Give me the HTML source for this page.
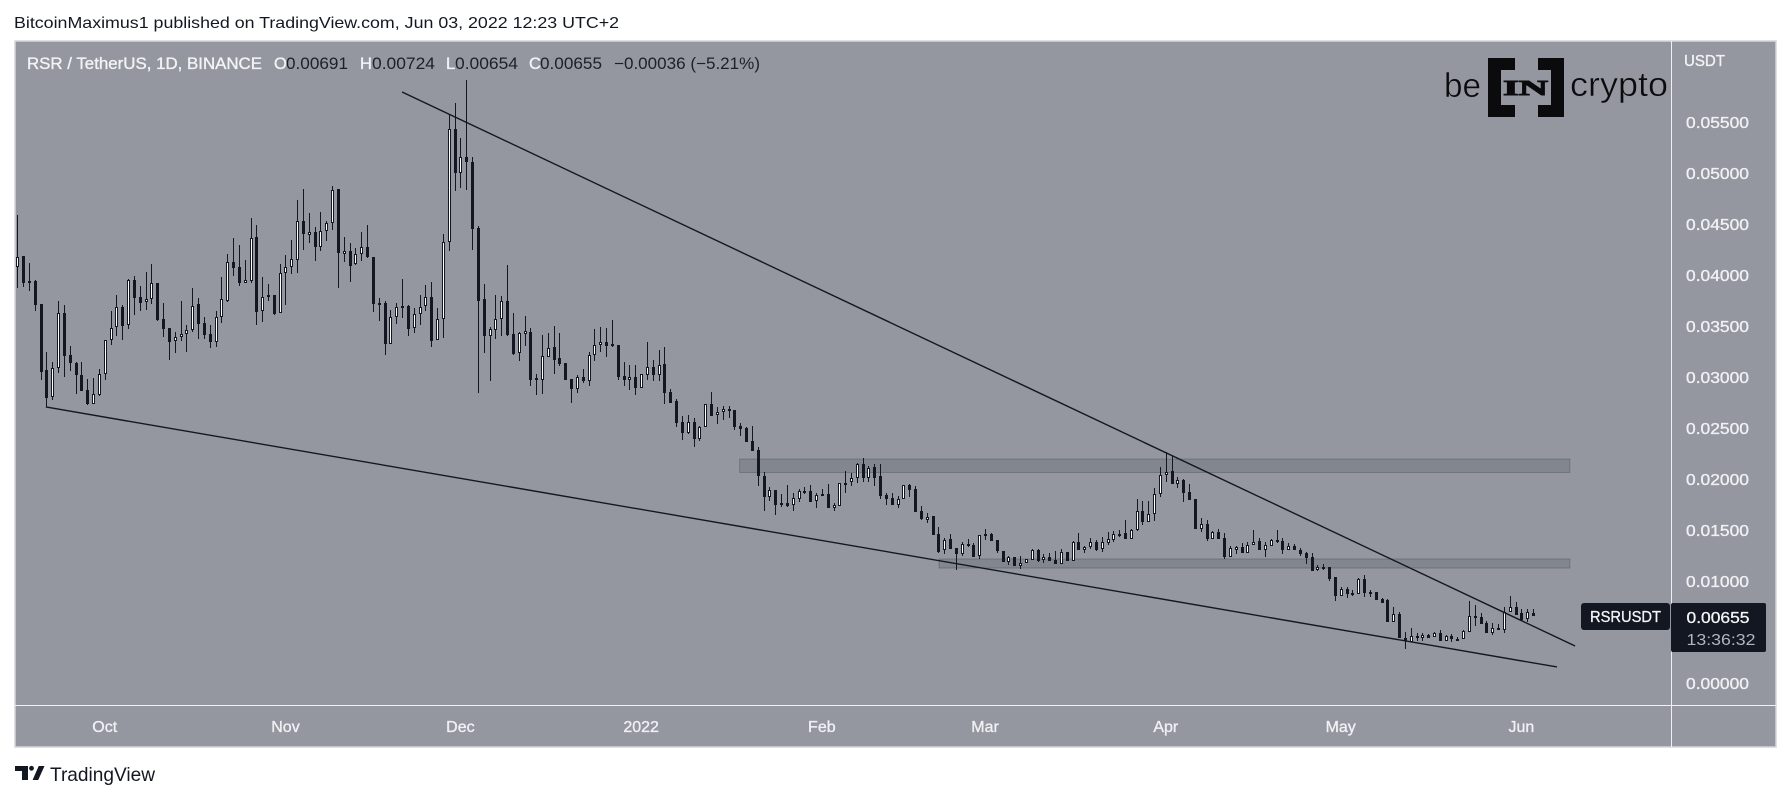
<!DOCTYPE html>
<html lang="en">
<head>
<meta charset="utf-8">
<title>RSR / TetherUS chart</title>
<style>
html,body{margin:0;padding:0;background:#fff;width:1791px;height:800px;overflow:hidden}
svg{display:block;font-family:"Liberation Sans",sans-serif}
</style>
</head>
<body>
<svg id="chart" xmlns="http://www.w3.org/2000/svg" width="1791" height="800" viewBox="0 0 1791 800">
  <text x="14" y="28" font-size="16" fill="#131722" textLength="605" lengthAdjust="spacingAndGlyphs">BitcoinMaximus1 published on TradingView.com, Jun 03, 2022 12:23 UTC+2</text>
  <rect x="15" y="41" width="1761" height="706" fill="#9497a0" stroke="#d3d5db" stroke-width="1.5"/>
  <g id="zones"></g>
  <g id="candles"></g>
  <g id="trends"></g>
  <line x1="1671.5" y1="41" x2="1671.5" y2="747" stroke="#f0f1f4" stroke-width="1"/>
  <line x1="15" y1="705.5" x2="1776" y2="705.5" stroke="#f0f1f4" stroke-width="1"/>
  <g id="price-axis"></g>
  <g id="time-axis"></g>

  <g font-size="16.5">
    <text x="27" y="69" fill="#f2f3f5" stroke="#f2f3f5" stroke-width="0.35" textLength="235" lengthAdjust="spacingAndGlyphs">RSR / TetherUS, 1D, BINANCE</text>
    <text x="274" y="69" fill="#f2f3f5" stroke="#f2f3f5" stroke-width="0.35">O</text>
    <text x="286" y="69" fill="#1c202b" textLength="62" lengthAdjust="spacingAndGlyphs">0.00691</text>
    <text x="360" y="69" fill="#f2f3f5" stroke="#f2f3f5" stroke-width="0.35">H</text>
    <text x="372" y="69" fill="#1c202b" textLength="63" lengthAdjust="spacingAndGlyphs">0.00724</text>
    <text x="446" y="69" fill="#f2f3f5" stroke="#f2f3f5" stroke-width="0.35">L</text>
    <text x="455" y="69" fill="#1c202b" textLength="63" lengthAdjust="spacingAndGlyphs">0.00654</text>
    <text x="529" y="69" fill="#f2f3f5" stroke="#f2f3f5" stroke-width="0.35">C</text>
    <text x="540" y="69" fill="#1c202b" textLength="62" lengthAdjust="spacingAndGlyphs">0.00655</text>
    <text x="614" y="69" fill="#1c202b" textLength="146" lengthAdjust="spacingAndGlyphs">−0.00036 (−5.21%)</text>
  </g>

  <g fill="#0b0b0d">
    <text x="1444" y="97" font-size="34" stroke="#9497a0" stroke-width="0.5" textLength="37" lengthAdjust="spacingAndGlyphs">be</text>
    <path d="M1488 58h27v12h-14v35h14v12h-27z"/>
    <path d="M1538 58h26v59h-26v-12h13v-35h-13z"/>
    <text x="1503" y="95" font-size="21" font-weight="bold" font-family="Liberation Serif, serif" stroke="#0b0b0d" stroke-width="0.9" textLength="45" lengthAdjust="spacingAndGlyphs">IN</text>
    <text x="1570" y="96" font-size="34" stroke="#9497a0" stroke-width="0.5" textLength="98" lengthAdjust="spacingAndGlyphs">crypto</text>
  </g>

  <g>
    <rect x="1581" y="603" width="89" height="27" rx="3" fill="#131722"/>
    <text x="1625.5" y="622" font-size="16" fill="#f4f5f7" stroke="#f4f5f7" stroke-width="0.3" text-anchor="middle" textLength="71" lengthAdjust="spacingAndGlyphs">RSRUSDT</text>
    <rect x="1671" y="603" width="95" height="49" rx="2" fill="#131722"/>
    <text x="1718" y="623" font-size="16" fill="#f4f5f7" stroke="#f4f5f7" stroke-width="0.3" text-anchor="middle" textLength="63" lengthAdjust="spacingAndGlyphs">0.00655</text>
    <text x="1721" y="645" font-size="16" fill="#b2b5be" text-anchor="middle" textLength="69" lengthAdjust="spacingAndGlyphs">13:36:32</text>
  </g>

  <g fill="#131722">
    <path d="M15 766h13v14h-6v-9h-7z"/>
    <circle cx="31.5" cy="768.3" r="2.4"/>
    <path d="M38.7 766h5.8l-6.3 14h-5.6z"/>
    <text x="50" y="781" font-size="19.5" textLength="105" lengthAdjust="spacingAndGlyphs">TradingView</text>
  </g>
</svg>
<script>
// All prices below are in units of 0.0001 USDT, one entry per daily bar starting at 2021-09-16.
const opens = [
408,419,394,394,372,307,280,309,363,322,
314,302,287,274,282,303,336,349,369,351,
395,378,374,376,392,357,348,335,339,342,
346,372,353,342,334,359,375,413,408,392,
394,437,365,380,380,363,402,408,415,453,
439,442,427,443,451,484,422,424,411,421,
427,418,373,373,332,359,370,370,348,362,
370,378,336,357,432,543,500,516,511,446,
376,340,346,357,375,342,324,342,344,299,
297,320,329,319,314,298,288,300,296,322,
331,334,332,331,301,297,300,289,302,310,
302,313,285,276,256,245,256,239,251,274,
263,266,269,268,252,250,237,228,203,182,
189,176,176,175,180,188,188,178,185,185,
173,174,196,197,201,215,201,212,203,184,
181,175,180,194,190,169,161,164,146,130,
141,132,126,136,135,125,146,146,140,129,
119,124,116,118,121,130,121,124,121,117,
128,120,138,131,133,138,131,137,140,146,
147,141,150,169,158,166,185,204,208,195,
199,187,180,151,156,141,148,142,124,131,
133,127,135,139,130,134,140,139,130,134,
130,127,124,111,114,114,104,85,92,88,
87,102,89,89,82,81,60,68,44,40,
46,44,47,45,49,41,46,43,43,50,
66,65,59,49,54,52,70,75,69,63,69.1];
const highs = [
459,419,412,395,372,325,315,375,371,330,
315,315,298,299,308,336,365,380,371,396,
399,389,403,411,392,373,348,344,375,351,
387,377,359,351,365,398,421,436,429,415,
456,449,398,391,380,411,420,434,474,484,
461,447,462,453,487,484,437,431,426,442,
449,418,377,375,366,373,396,371,368,380,
390,393,368,440,558,569,534,591,516,448,
391,349,380,379,410,363,344,360,348,303,
341,343,350,343,314,298,302,308,325,347,
349,348,356,331,315,312,312,303,334,317,
326,329,288,278,262,263,260,252,274,285,
271,272,272,268,255,251,252,231,207,192,
189,185,194,186,190,192,194,186,190,195,
176,196,208,206,216,221,213,215,215,186,
186,183,194,195,193,174,167,164,153,142,
146,132,138,141,137,145,151,147,140,129,
125,124,125,122,131,131,126,127,129,131,
128,139,147,134,142,140,143,148,149,150,
160,151,180,178,178,191,212,226,223,202,
200,195,180,162,160,149,151,147,134,134,
137,138,150,142,138,141,150,142,137,136,
132,128,127,116,117,114,104,94,94,91,
103,106,91,89,83,82,75,70,50,54,
49,49,48,50,52,47,48,45,52,80,
76,69,61,59,58,75,85,79,73,73,72.4];
const lows = [
387,388,384,365,297,271,277,304,300,306,
283,286,273,274,281,297,331,340,336,347,
361,365,366,372,355,339,317,324,335,325,
344,337,337,328,329,353,374,399,389,392,
392,351,354,375,361,363,371,401,402,425,
431,414,424,433,444,387,413,393,410,414,
417,364,355,322,332,352,358,340,343,351,
365,329,336,338,424,482,485,483,425,284,
324,296,337,340,340,322,316,330,291,282,
283,320,303,311,297,275,284,294,291,316,
325,320,329,297,291,287,282,289,297,296,
296,274,275,251,238,244,231,237,251,262,
254,258,260,248,242,236,227,193,169,178,
165,173,173,169,177,185,177,172,183,172,
169,174,186,193,196,197,197,193,180,175,
175,172,180,182,168,160,157,145,127,126,
131,111,125,133,124,122,140,139,127,119,
116,115,112,118,121,119,118,120,117,117,
120,120,130,127,131,129,128,135,138,143,
141,141,149,155,158,159,182,197,195,191,
177,179,151,148,139,141,141,122,124,126,
127,127,135,130,124,134,137,126,130,130,
125,117,110,110,111,100,80,85,83,85,
87,84,84,81,78,60,60,44,33,40,
41,41,44,45,41,41,40,42,43,50,
56,58,49,47,52,49,70,67,62,60,65.4];
const closes = [
418,392,392,371,305,279,309,363,321,314,
302,286,274,283,303,336,348,369,350,395,
377,373,376,392,356,347,334,339,342,346,
370,352,341,334,359,376,413,407,392,395,
436,364,378,378,362,402,408,416,453,440,
442,427,443,451,483,422,424,409,421,427,
418,372,371,332,359,369,368,347,362,369,
378,335,357,432,543,500,516,511,445,375,
340,347,357,375,341,323,343,345,297,297,
321,328,317,313,297,288,300,296,322,331,
334,330,330,300,297,300,289,303,310,302,
312,284,275,255,245,256,239,251,274,262,
266,269,267,251,249,236,227,203,182,189,
175,175,174,181,188,187,177,184,183,172,
175,196,195,201,215,201,211,201,183,180,
175,180,194,189,168,161,163,145,128,140,
131,126,136,135,124,145,144,139,129,119,
124,115,118,122,130,120,124,120,117,128,
120,138,130,133,138,130,138,141,146,145,
141,150,169,158,166,185,204,207,195,199,
186,179,151,156,141,148,141,124,132,133,
127,135,138,130,135,140,139,130,134,130,
126,123,110,114,113,102,85,92,87,87,
102,88,87,81,78,60,68,44,41,46,
44,47,44,49,41,46,43,42,51,66,
64,58,49,54,52,70,75,67,62,70,65.5];

const priceTickValues = [550,500,450,400,350,300,250,200,150,100,0];
const priceTickLabels = ["0.05500","0.05000","0.04500","0.04000","0.03500","0.03000","0.02500","0.02000","0.01500","0.01000","0.00000"];
const monthBarIndex = [15,46,76,107,138,166,197,227,258];
const monthLabels = ["Oct","Nov","Dec","2022","Feb","Mar","Apr","May","Jun"];

// Drawing annotations, as [bar index, price] anchors
const upperTrendBars = [66,267.2];
const upperTrendPrices = [579.4,36.3];
const lowerTrendBars = [4.9,264.1];
const lowerTrendPrices = [270.6,15.7];
const zoneStartBars = [123.9,158.1];
const zoneEndBars = [266.3,266.3];
const zoneTopPrices = [219.6,121.6];
const zoneBottomPrices = [206.4,112.7];

const NS = "http://www.w3.org/2000/svg";
function xScale(i){ return 17.3 + 5.83 * i; }
function yScale(p){ return 683 - 1.02 * p; }
function make(tag, parent, attrs){
  const el = document.createElementNS(NS, tag);
  for (const k in attrs) el.setAttribute(k, attrs[k]);
  parent.appendChild(el);
  return el;
}

const zonesG = document.getElementById('zones');
zoneStartBars.forEach(function(start, z){
  const x0 = xScale(start), x1 = xScale(zoneEndBars[z]);
  const y0 = yScale(zoneTopPrices[z]), y1 = yScale(zoneBottomPrices[z]);
  const r = make('rect', zonesG, {x:x0, y:y0, width:x1-x0, height:y1-y0, fill:'rgba(19,23,34,0.13)', stroke:'rgba(19,23,34,0.22)', 'stroke-width':1});
  
  
});

const candlesG = document.getElementById('candles');
const DARK = '#131722';
opens.forEach(function(o, i){
  const c = closes[i], h = highs[i], l = lows[i];
  const xc = Math.round(xScale(i));
  const g = make('g', candlesG, {'shape-rendering':'crispEdges'});
  
  
  const yH = Math.round(yScale(h)), yL = Math.round(yScale(l));
  let yT = Math.round(yScale(Math.max(o, c))), yB = Math.round(yScale(Math.min(o, c)));
  const up = c >= o;
  if (up && yB - yT < 3) yB = yT + 3;
  if (yB - yT < 2) yB = yT + 2;
  make('rect', g, {x:xc, y:yH, width:1, height:Math.max(1, yL-yH), fill:DARK});
  make('rect', g, {x:xc-1, y:yT, width:3, height:yB-yT, fill:DARK});
  if (up) make('rect', g, {x:xc, y:yT+1, width:1, height:yB-yT-2, fill:'#ffffff'});
});

const trendsG = document.getElementById('trends');
const upperLine = make('line', trendsG, {x1:xScale(upperTrendBars[0]), y1:yScale(upperTrendPrices[0]), x2:xScale(upperTrendBars[1]), y2:yScale(upperTrendPrices[1]), stroke:DARK, 'stroke-width':1.4});


const lowerLine = make('line', trendsG, {x1:xScale(lowerTrendBars[0]), y1:yScale(lowerTrendPrices[0]), x2:xScale(lowerTrendBars[1]), y2:yScale(lowerTrendPrices[1]), stroke:DARK, 'stroke-width':1.4});



const priceAxis = document.getElementById('price-axis');
const unitLabel = make('text', priceAxis, {x:1684, y:66, 'font-size':16, fill:'#f2f3f5', stroke:'#f2f3f5', 'stroke-width':0.35, textLength:41, lengthAdjust:'spacingAndGlyphs'});
unitLabel.textContent = 'USDT';


priceTickValues.forEach(function(v, k){
  const t = make('text', priceAxis, {x:1686, y:yScale(v)+6, 'font-size':16, fill:'#f0f1f4', stroke:'#f0f1f4', 'stroke-width':0.35, textLength:63, lengthAdjust:'spacingAndGlyphs'});
  t.textContent = priceTickLabels[k];
  
  
});

const timeAxis = document.getElementById('time-axis');
monthBarIndex.forEach(function(b, k){
  const t = make('text', timeAxis, {x:xScale(b), y:732, 'font-size':16, fill:'#f0f1f4', stroke:'#f0f1f4', 'stroke-width':0.35, 'text-anchor':'middle'});
  t.textContent = monthLabels[k];
  
  
});
</script>
</body>
</html>
